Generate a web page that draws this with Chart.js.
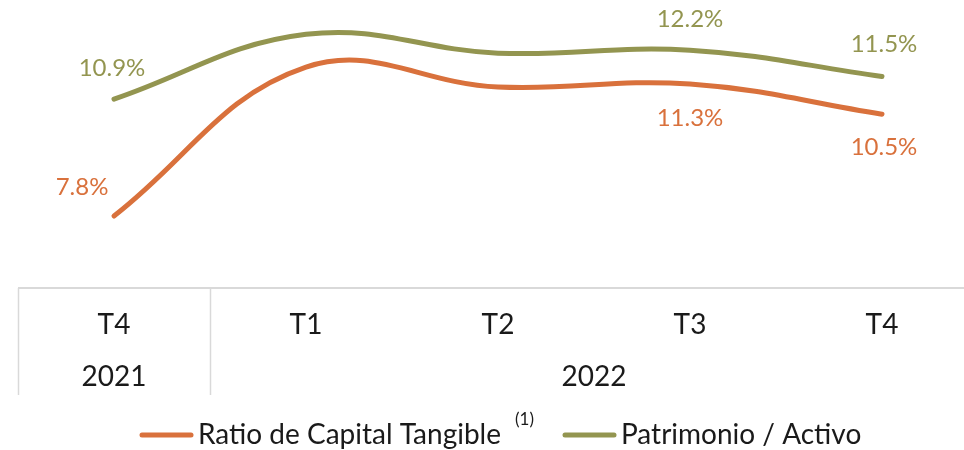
<!DOCTYPE html>
<html>
<head>
<meta charset="utf-8">
<script src="https://cdn.jsdelivr.net/npm/chart.js@4.4.1/dist/chart.umd.min.js"></script>
<style>
  html, body { margin: 0; padding: 0; background: #fff; }
  #wrap { width: 964px; height: 450px; position: relative; }
</style>
</head>
<body>
<div id="wrap"><canvas id="ratiosChart" width="964" height="450"></canvas></div>
<script>
// Quarters and years shown in the table under the chart
const quarters = ["T4", "T1", "T2", "T3", "T4"];
const years = ["2021", "2022", "2022", "2022", "2022"];

// Series values (%)
const tangibleRatio = [7.8, 11.75, 11.22, 11.3, 10.5];
const equityToAssets = [10.9, 12.62, 12.12, 12.2, 11.5];

// Which points carry a value label
const tangibleShown = [true, false, false, true, true];
const equityShown = [true, false, false, true, true];

const ORANGE = "#d9713c";
const GREEN = "#939550";
const TEXT = "#1a1a1a";
const GRID = "#d9d9d9";
const FONT = "Lato, 'Open Sans', sans-serif";

// label offsets relative to the point: [dx, dy]
const tangibleOffsets = [[-32, -29], [0, 0], [0, 0], [0, 34], [2, 33]];
const equityOffsets = [[-2, -31], [0, 0], [0, 0], [0, -31], [2, -32]];

function fmt(v) {
  return v.toFixed(1) + "%";
}

// value labels next to the points
const valueLabels = {
  id: "valueLabels",
  afterDatasetsDraw(chart) {
    const ctx = chart.ctx;
    ctx.save();
    ctx.font = "24px " + FONT;
    ctx.textAlign = "center";
    ctx.textBaseline = "middle";
    const sets = [
      { idx: 0, vals: tangibleRatio, shown: tangibleShown, off: tangibleOffsets, color: ORANGE },
      { idx: 1, vals: equityToAssets, shown: equityShown, off: equityOffsets, color: GREEN },
    ];
    sets.forEach((s) => {
      const meta = chart.getDatasetMeta(s.idx);
      meta.data.forEach((pt, i) => {
        if (!s.shown[i]) return;
        ctx.fillStyle = s.color;
        ctx.fillText(fmt(s.vals[i]), pt.x + s.off[i][0], pt.y + s.off[i][1]);
      });
    });
    ctx.restore();
  },
};

// category table + legend under the plot
const axisTable = {
  id: "axisTable",
  afterDraw(chart) {
    const ctx = chart.ctx;
    const xs = chart.scales.x;
    const top = chart.chartArea.bottom;
    const bottom = top + 107;
    const step = xs.getPixelForValue(1) - xs.getPixelForValue(0);
    ctx.save();
    ctx.strokeStyle = GRID;
    ctx.lineWidth = 2;
    ctx.beginPath();
    ctx.moveTo(xs.getPixelForValue(0) - step / 2, top);
    ctx.lineTo(chart.width, top);
    ctx.stroke();

    // vertical separators where the year changes
    ctx.lineWidth = 1.5;
    years.forEach((y, i) => {
      if (i === 0 || y !== years[i - 1]) {
        const x = Math.round(xs.getPixelForValue(i) - step / 2) + 0.5;
        ctx.beginPath();
        ctx.moveTo(x, top);
        ctx.lineTo(x, bottom);
        ctx.stroke();
      }
    });

    ctx.fillStyle = TEXT;
    ctx.font = "28px " + FONT;
    ctx.textAlign = "center";
    ctx.textBaseline = "middle";
    quarters.forEach((q, i) => {
      ctx.fillText(q, xs.getPixelForValue(i), top + 37);
    });

    // year labels centred over their group of quarters
    let start = 0;
    for (let i = 1; i <= years.length; i++) {
      if (i === years.length || years[i] !== years[start]) {
        const x = (xs.getPixelForValue(start) + xs.getPixelForValue(i - 1)) / 2;
        ctx.fillText(years[start], x, top + 89);
        start = i;
      }
    }

    // legend
    const ly = 435;
    ctx.lineCap = "round";
    ctx.lineWidth = 5;
    ctx.strokeStyle = ORANGE;
    ctx.beginPath();
    ctx.moveTo(142, ly);
    ctx.lineTo(191, ly);
    ctx.stroke();
    ctx.textAlign = "left";
    ctx.fillText("Ratio de Capital Tangible", 198, ly);
    const w = ctx.measureText("Ratio de Capital Tangible").width;
    ctx.font = "17px " + FONT;
    ctx.fillText("(1)", 198 + w + 14, ly - 15);

    ctx.strokeStyle = GREEN;
    ctx.beginPath();
    ctx.moveTo(565, ly);
    ctx.lineTo(614, ly);
    ctx.stroke();
    ctx.font = "28px " + FONT;
    ctx.fillText("Patrimonio / Activo", 621, ly);
    ctx.restore();
  },
};

const ctx = document.getElementById("ratiosChart").getContext("2d");
new Chart(ctx, {
  type: "line",
  data: {
    labels: quarters,
    datasets: [
      {
        label: "Ratio de Capital Tangible",
        data: tangibleRatio,
        borderColor: ORANGE,
        borderWidth: 5,
        borderCapStyle: "round",
        tension: 0.4,
        pointRadius: 0,
        clip: false,
      },
      {
        label: "Patrimonio / Activo",
        data: equityToAssets,
        borderColor: GREEN,
        borderWidth: 5,
        borderCapStyle: "round",
        tension: 0.4,
        pointRadius: 0,
        clip: false,
      },
    ],
  },
  options: {
    responsive: false,
    animation: false,
    layout: { padding: { left: 114, right: 82, top: 0, bottom: 162 } },
    plugins: {
      legend: { display: false },
      tooltip: { enabled: false },
    },
    scales: {
      x: { display: false, offset: false },
      y: { display: false, min: 5.89, max: 13.53 },
    },
  },
  plugins: [valueLabels, axisTable],
});
</script>
</body>
</html>
